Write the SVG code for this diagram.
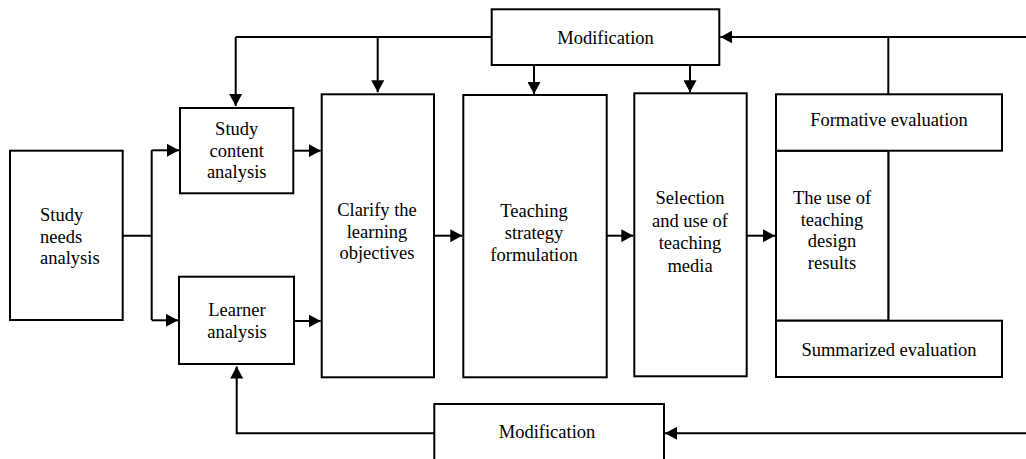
<svg xmlns="http://www.w3.org/2000/svg" width="1026" height="459" viewBox="0 0 1026 459" font-family="'Liberation Serif', 'DejaVu Serif', serif">
<style>
.box{fill:#fff;stroke:#000;stroke-width:2}
.ln{fill:none;stroke:#000;stroke-width:2}
text{font-family:'Liberation Serif','DejaVu Serif',serif;font-size:18.5px;fill:#000}
.c{text-anchor:middle}
</style>
<defs>
<marker id="ah" markerWidth="12" markerHeight="13" refX="12" refY="6.5" orient="auto" markerUnits="userSpaceOnUse">
<path d="M0,0 L12,6.5 L0,13 Z" fill="#000"/>
</marker>
</defs>
<rect width="1026" height="459" fill="#fff"/>
<g id="connectors">
<path class="ln" d="M122.7,235.7 H151.7 M151.7,150 V320"/>
<path class="ln" d="M151.7,150.3 H179" marker-end="url(#ah)"/>
<path class="ln" d="M151.7,320.3 H178" marker-end="url(#ah)"/>
<path class="ln" d="M293.3,150.7 H320.7" marker-end="url(#ah)"/>
<path class="ln" d="M294,321 H320.7" marker-end="url(#ah)"/>
<path class="ln" d="M434,235.7 H462.3" marker-end="url(#ah)"/>
<path class="ln" d="M606.7,235.7 H633.3" marker-end="url(#ah)"/>
<path class="ln" d="M746.7,235.7 H775" marker-end="url(#ah)"/>
<path class="ln" d="M491.7,37 H235.7"/>
<path class="ln" d="M235.7,37 V106" marker-end="url(#ah)"/>
<path class="ln" d="M377.7,37 V92.3" marker-end="url(#ah)"/>
<path class="ln" d="M534,65 V94" marker-end="url(#ah)"/>
<path class="ln" d="M690,65 V92.3" marker-end="url(#ah)"/>
<path class="ln" d="M1026,37 H720.3" marker-end="url(#ah)"/>
<path class="ln" d="M888.3,37 V94.3"/>
<path class="ln" d="M888.3,150.7 V320.7"/>
<path class="ln" d="M1026,433.3 H665" marker-end="url(#ah)"/>
<path class="ln" d="M434.3,433.3 H236.7 V366.5" marker-end="url(#ah)"/>
</g>
<g id="study-needs">
<rect class="box" x="10" y="150.7" width="112.7" height="169.3"/>
<text x="40" y="221">Study</text>
<text x="40" y="242.5">needs</text>
<text x="40" y="264">analysis</text>
</g>
<g id="study-content">
<rect class="box" x="180" y="108" width="113.3" height="85.3"/>
<text class="c" x="236.7" y="135">Study</text>
<text class="c" x="236.7" y="156.5">content</text>
<text class="c" x="236.7" y="178">analysis</text>
</g>
<g id="learner">
<rect class="box" x="179" y="276.7" width="115" height="87.3"/>
<text class="c" x="237" y="316">Learner</text>
<text class="c" x="237" y="337.5">analysis</text>
</g>
<g id="clarify">
<rect class="box" x="321.7" y="94.3" width="112.3" height="283"/>
<text class="c" x="377" y="216">Clarify the</text>
<text class="c" x="377" y="237.5">learning</text>
<text class="c" x="377" y="259">objectives</text>
</g>
<g id="teaching-strategy">
<rect class="box" x="463.3" y="95" width="143.4" height="282.3"/>
<text class="c" x="534" y="217.3">Teaching</text>
<text class="c" x="534" y="239">strategy</text>
<text class="c" x="534" y="260.5">formulation</text>
</g>
<g id="selection">
<rect class="box" x="634.3" y="93.3" width="112.4" height="283"/>
<text class="c" x="690" y="204">Selection</text>
<text class="c" x="690" y="226.5">and use of</text>
<text class="c" x="690" y="249">teaching</text>
<text class="c" x="690" y="271.5">media</text>
</g>
<g id="use-results">
<rect class="box" x="776" y="150.7" width="112.3" height="170"/>
<text class="c" x="832" y="204">The use of</text>
<text class="c" x="832" y="225.7">teaching</text>
<text class="c" x="832" y="247.3">design</text>
<text class="c" x="832" y="269">results</text>
</g>
<g id="formative">
<rect class="box" x="776" y="94.3" width="226" height="56.4"/>
<text class="c" x="889" y="125.7">Formative evaluation</text>
</g>
<g id="summarized">
<rect class="box" x="776" y="320.7" width="226" height="56.3"/>
<text class="c" x="889" y="356">Summarized evaluation</text>
</g>
<g id="modification-top">
<rect class="box" x="491.7" y="9.3" width="227.6" height="55.7"/>
<text class="c" x="605.5" y="44">Modification</text>
</g>
<g id="modification-bottom">
<rect class="box" x="434.3" y="404" width="229.7" height="70"/>
<text class="c" x="547" y="438.3">Modification</text>
</g>
</svg>
